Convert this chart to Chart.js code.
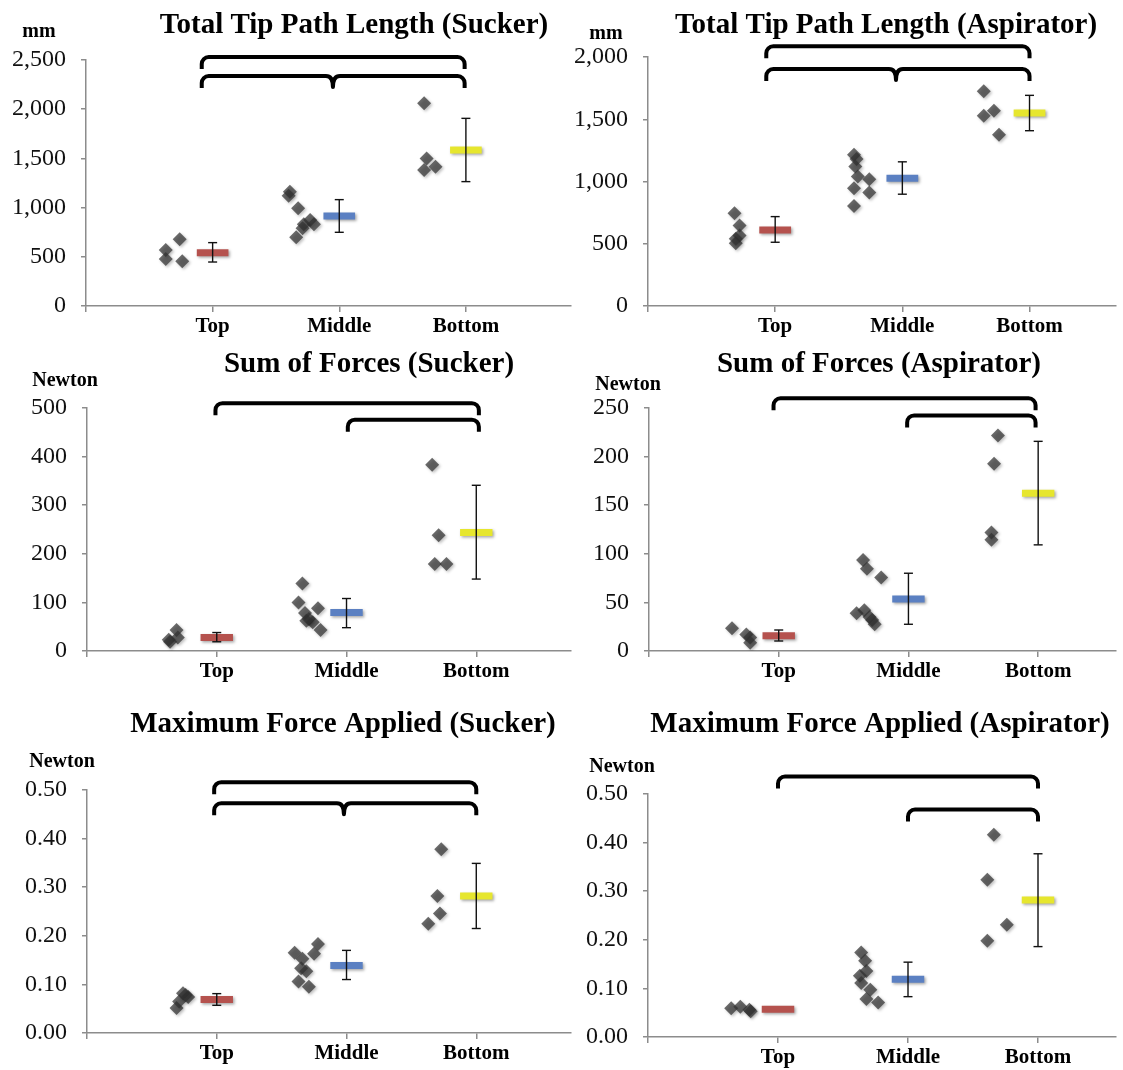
<!DOCTYPE html>
<html>
<head>
<meta charset="utf-8">
<script src="https://cdn.jsdelivr.net/npm/chart.js@4.4.1/dist/chart.umd.min.js"></script>
<style>
  html, body { margin: 0; padding: 0; background: #ffffff; }
  body { position: relative; width: 1123px; height: 1070px; overflow: hidden; }
  .panel { position: absolute; }
  .panel canvas { display: block; }
</style>
</head>
<body>
<div class="panel" id="w1" style="left:0px;top:0px;width:578px;height:345px"><canvas id="c1"></canvas></div>
<div class="panel" id="w2" style="left:565px;top:0px;width:558px;height:345px"><canvas id="c2"></canvas></div>
<div class="panel" id="w3" style="left:0px;top:345px;width:578px;height:345px"><canvas id="c3"></canvas></div>
<div class="panel" id="w4" style="left:565px;top:345px;width:558px;height:345px"><canvas id="c4"></canvas></div>
<div class="panel" id="w5" style="left:0px;top:690px;width:578px;height:380px"><canvas id="c5"></canvas></div>
<div class="panel" id="w6" style="left:565px;top:690px;width:558px;height:380px"><canvas id="c6"></canvas></div>
<script>
// ---------------- DATA ----------------
const categories = ['Top', 'Middle', 'Bottom'];

// Total Tip Path Length (Sucker), mm
const pathSuckerX = [0.63, 0.63, 0.74, 0.76, 1.61, 1.60, 1.675, 1.77, 1.72, 1.80, 1.71, 1.66, 2.67, 2.69, 2.67, 2.76];
const pathSuckerY = [569, 478, 678, 454, 1162, 1121, 993, 874, 830, 830, 789, 698, 2060, 1500, 1382, 1416];
const pathSuckerMean = [542, 915, 1585];
const pathSuckerHi = [644, 1081, 1907];
const pathSuckerLo = [447, 749, 1264];
const pathSuckerBrackets = [[0.914, 2.99, 2530, null], [0.914, 2.99, 2337, 1.95]];

// Total Tip Path Length (Aspirator), mm
const pathAspX = [0.68, 0.72, 0.72, 0.69, 0.69, 1.62, 1.64, 1.63, 1.65, 1.74, 1.62, 1.74, 1.62, 2.64, 2.72, 2.64, 2.76];
const pathAspY = [745, 646, 566, 504, 540, 1214, 1180, 1121, 1040, 1019, 946, 912, 804, 1724, 1568, 1528, 1375];
const pathAspMean = [611, 1027, 1550];
const pathAspHi = [718, 1158, 1692];
const pathAspLo = [512, 898, 1408];
const pathAspBrackets = [[0.93, 3.0, 2086, null], [0.93, 3.0, 1903, 1.95]];

// Sum of Forces (Sucker), Newton
const sumSuckerX = [0.63, 0.64, 0.69, 0.70, 1.66, 1.63, 1.68, 1.78, 1.71, 1.74, 1.69, 1.80, 2.66, 2.71, 2.68, 2.77];
const sumSuckerY = [23, 19, 43, 28, 139, 100, 78, 88, 66, 59, 62, 43, 383, 238, 179, 179];
const sumSuckerMean = [28, 79, 244];
const sumSuckerHi = [38, 108, 341];
const sumSuckerLo = [19, 48, 148];
const sumSuckerBrackets = [[0.99, 3.02, 510, null], [2.01, 3.02, 476, null]];

// Sum of Forces (Aspirator), Newton
const sumAspX = [0.64, 0.75, 0.78, 0.78, 1.65, 1.68, 1.79, 1.60, 1.66, 1.70, 1.72, 1.74, 2.69, 2.66, 2.64, 2.64];
const sumAspY = [23.4, 17, 14, 8.6, 93.7, 84.5, 75.5, 38.8, 42, 35, 32, 27.5, 221.8, 192.6, 121.9, 114.4];
const sumAspMean = [15.8, 53.6, 162.4];
const sumAspHi = [21.6, 80, 215.7];
const sumAspLo = [10.3, 27.5, 109.2];
const sumAspBrackets = [[0.96, 2.98, 260, null], [1.99, 2.98, 242.4, null]];

// Maximum Force Applied (Sucker), Newton
const maxSuckerX = [0.69, 0.71, 0.74, 0.78, 0.76, 1.60, 1.66, 1.75, 1.78, 1.65, 1.69, 1.63, 1.71, 2.73, 2.70, 2.72, 2.63];
const maxSuckerY = [0.0515, 0.065, 0.082, 0.074, 0.078, 0.165, 0.153, 0.163, 0.183, 0.133, 0.127, 0.106, 0.095, 0.378, 0.282, 0.246, 0.225];
const maxSuckerMean = [0.0687, 0.139, 0.282];
const maxSuckerHi = [0.081, 0.170, 0.349];
const maxSuckerLo = [0.057, 0.110, 0.215];
const maxSuckerBrackets = [[0.98, 3.0, 0.516, null], [0.98, 3.0, 0.4725, 1.98]];

// Maximum Force Applied (Aspirator), Newton
// (no error bar is visible for "Top" in the reference, so it is left empty)
const maxAspX = [0.64, 0.71, 0.78, 0.79, 1.64, 1.67, 1.68, 1.63, 1.64, 1.71, 1.68, 1.77, 2.66, 2.61, 2.76, 2.61];
const maxAspY = [0.059, 0.0625, 0.056, 0.053, 0.174, 0.157, 0.136, 0.126, 0.111, 0.097, 0.078, 0.071, 0.416, 0.3235, 0.231, 0.198];
const maxAspMean = [0.057, 0.119, 0.282];
const maxAspHi = [null, 0.154, 0.377];
const maxAspLo = [null, 0.083, 0.186];
const maxAspBrackets = [[1.0, 3.0, 0.536, null], [2.0, 3.0, 0.468, null]];

// ---------------- STYLE ----------------
const SERIF = '"Liberation Serif", "Times New Roman", serif';
const meanColors = ['#b5524e', '#5b80c2', '#e6e62e'];
const axisGray = '#8c8c8c';

const shadowPlugin = {
  id: 'shadowPlugin',
  beforeDatasetDraw(chart, args) {
    const ds = chart.data.datasets[args.index];
    if (ds.shadow) {
      const c = chart.ctx;
      c.save();
      c.shadowColor = 'rgba(0,0,0,0.35)';
      c.shadowBlur = 3;
      c.shadowOffsetX = 1.5;
      c.shadowOffsetY = 1.5;
    }
  },
  afterDatasetDraw(chart, args) {
    if (chart.data.datasets[args.index].shadow) chart.ctx.restore();
  }
};

const bracketPlugin = {
  id: 'brackets',
  afterDatasetsDraw(chart, args, opts) {
    const xs = chart.scales.x, ys = chart.scales.y, ctx = chart.ctx;
    (opts.items || []).forEach(b => {
      const x0 = xs.getPixelForValue(b[0]);
      const x1 = xs.getPixelForValue(b[1]);
      const y = ys.getPixelForValue(b[2]);
      const h = 12, r = 7;
      ctx.save();
      ctx.strokeStyle = '#000';
      ctx.lineWidth = 4;
      ctx.lineJoin = 'round';
      ctx.lineCap = 'butt';
      ctx.beginPath();
      ctx.moveTo(x0, y + h);
      ctx.lineTo(x0, y + r);
      ctx.arcTo(x0, y, x0 + r, y, r);
      if (b[3] !== null) {
        const xn = xs.getPixelForValue(b[3]);
        ctx.lineTo(xn - r, y);
        ctx.quadraticCurveTo(xn, y, xn, y + h - 1);
        ctx.quadraticCurveTo(xn, y, xn + r, y);
      }
      ctx.lineTo(x1 - r, y);
      ctx.arcTo(x1, y, x1, y + r, r);
      ctx.lineTo(x1, y + h);
      ctx.stroke();
      ctx.restore();
    });
  }
};

const textPlugin = {
  id: 'panelText',
  afterDraw(chart, args, o) {
    const ctx = chart.ctx;
    ctx.save();
    ctx.fillStyle = '#000';
    ctx.textAlign = 'center';
    ctx.textBaseline = 'alphabetic';
    ctx.font = 'bold 29px ' + SERIF;
    ctx.fillText(o.title, o.tx, o.ty);
    ctx.font = 'bold 20px ' + SERIF;
    ctx.fillText(o.unit, o.ux, o.uy);
    ctx.restore();
  }
};

function makePanel(canvasId, d, L) {
  const datasets = [];
  datasets.push({
    data: d.x.map((x, i) => ({ x: x, y: d.y[i] })),
    pointStyle: 'rectRot',
    pointRadius: 7,
    pointHoverRadius: 7,
    backgroundColor: 'rgba(50,50,50,0.72)',
    borderWidth: 0,
    showLine: false,
    order: 3,
    shadow: true
  });
  categories.forEach((c, i) => {
    datasets.push({
      data: [{ x: i + 1 - 0.125, y: d.mean[i] }, { x: i + 1 + 0.125, y: d.mean[i] }],
      showLine: true,
      borderColor: meanColors[i],
      borderWidth: 7,
      borderCapStyle: 'butt',
      pointRadius: 0,
      pointHoverRadius: 0,
      order: 2,
      shadow: true
    });
    if (d.hi[i] !== null && d.lo[i] !== null) {
      datasets.push({
        data: [{ x: i + 1, y: d.hi[i] }, { x: i + 1, y: d.lo[i] }],
        showLine: true,
        borderColor: '#111',
        borderWidth: 1.4,
        pointStyle: 'line',
        pointRadius: 4.5,
        pointHoverRadius: 4.5,
        pointBorderColor: '#111',
        pointBorderWidth: 1.4,
        order: 1
      });
    }
  });

  return new Chart(document.getElementById(canvasId), {
    type: 'scatter',
    data: { datasets: datasets },
    plugins: [shadowPlugin, bracketPlugin, textPlugin],
    options: {
      responsive: true,
      maintainAspectRatio: false,
      animation: false,
      events: [],
      layout: { padding: { top: L.padTop, bottom: L.padBottom, left: 0, right: 0 } },
      plugins: {
        legend: { display: false },
        tooltip: { enabled: false },
        title: { display: false },
        brackets: { items: d.brackets },
        panelText: { title: d.title, unit: d.unit, tx: L.tx, ty: L.ty, ux: L.ux, uy: L.uy }
      },
      scales: {
        x: {
          type: 'linear',
          min: 0,
          max: L.xMax,
          afterBuildTicks: (s) => { s.ticks = [0, 1, 2, 3].map(v => ({ value: v })); },
          afterFit: (s) => { s.height = L.xH; },
          ticks: {
            autoSkip: false,
            maxRotation: 0,
            padding: 2,
            color: '#000',
            font: { family: SERIF, size: 21, weight: 'bold' },
            callback: (v) => categories[v - 1] || ''
          },
          grid: { drawOnChartArea: false, drawTicks: true, tickLength: 6, color: axisGray, lineWidth: 1.5 },
          border: { display: true, color: axisGray, width: 1.5 }
        },
        y: {
          type: 'linear',
          min: 0,
          max: d.yMax,
          afterFit: (s) => { s.width = L.yW; },
          ticks: {
            stepSize: d.yStep,
            padding: 15,
            color: '#111',
            font: { family: SERIF, size: 24 },
            callback: d.fmt
          },
          grid: { drawOnChartArea: false, drawTicks: true, tickLength: 5, color: axisGray, lineWidth: 1.5 },
          border: { display: true, color: axisGray, width: 1.5 }
        }
      }
    }
  });
}

const fmtComma = (v) => v.toLocaleString('en-US');
const fmtInt = (v) => String(v);
const fmt2 = (v) => v.toFixed(2);

makePanel('c1', {
  x: pathSuckerX, y: pathSuckerY, mean: pathSuckerMean, hi: pathSuckerHi, lo: pathSuckerLo,
  brackets: pathSuckerBrackets, yMax: 2500, yStep: 500, fmt: fmtComma,
  title: 'Total Tip Path Length (Sucker)', unit: 'mm'
}, { padTop: 60, padBottom: 3, xH: 36, yW: 86, xMax: 3.83, tx: 354, ty: 33, ux: 39, uy: 37 });

makePanel('c2', {
  x: pathAspX, y: pathAspY, mean: pathAspMean, hi: pathAspHi, lo: pathAspLo,
  brackets: pathAspBrackets, yMax: 2000, yStep: 500, fmt: fmtComma,
  title: 'Total Tip Path Length (Aspirator)', unit: 'mm'
}, { padTop: 57, padBottom: 3, xH: 36, yW: 83, xMax: 3.68, tx: 886 - 565, ty: 33, ux: 606 - 565, uy: 39 });

makePanel('c3', {
  x: sumSuckerX, y: sumSuckerY, mean: sumSuckerMean, hi: sumSuckerHi, lo: sumSuckerLo,
  brackets: sumSuckerBrackets, yMax: 500, yStep: 100, fmt: fmtInt,
  title: 'Sum of Forces (Sucker)', unit: 'Newton'
}, { padTop: 63, padBottom: 3, xH: 36, yW: 87, xMax: 3.73, tx: 369, ty: 27, ux: 65, uy: 41 });

makePanel('c4', {
  x: sumAspX, y: sumAspY, mean: sumAspMean, hi: sumAspHi, lo: sumAspLo,
  brackets: sumAspBrackets, yMax: 250, yStep: 50, fmt: fmtInt,
  title: 'Sum of Forces (Aspirator)', unit: 'Newton'
}, { padTop: 63, padBottom: 3, xH: 36, yW: 84, xMax: 3.6, tx: 879 - 565, ty: 27, ux: 628 - 565, uy: 45 });

makePanel('c5', {
  x: maxSuckerX, y: maxSuckerY, mean: maxSuckerMean, hi: maxSuckerHi, lo: maxSuckerLo,
  brackets: maxSuckerBrackets, yMax: 0.5, yStep: 0.1, fmt: fmt2,
  title: 'Maximum Force Applied (Sucker)', unit: 'Newton'
}, { padTop: 100, padBottom: 1, xH: 36, yW: 87, xMax: 3.73, tx: 343, ty: 42, ux: 62, uy: 77 });

makePanel('c6', {
  x: maxAspX, y: maxAspY, mean: maxAspMean, hi: maxAspHi, lo: maxAspLo,
  brackets: maxAspBrackets, yMax: 0.5, yStep: 0.1, fmt: fmt2,
  title: 'Maximum Force Applied (Aspirator)', unit: 'Newton'
}, { padTop: 104, padBottom: 0, xH: 33, yW: 83, xMax: 3.6, tx: 880 - 565, ty: 42, ux: 622 - 565, uy: 82 });
</script>
</body>
</html>
